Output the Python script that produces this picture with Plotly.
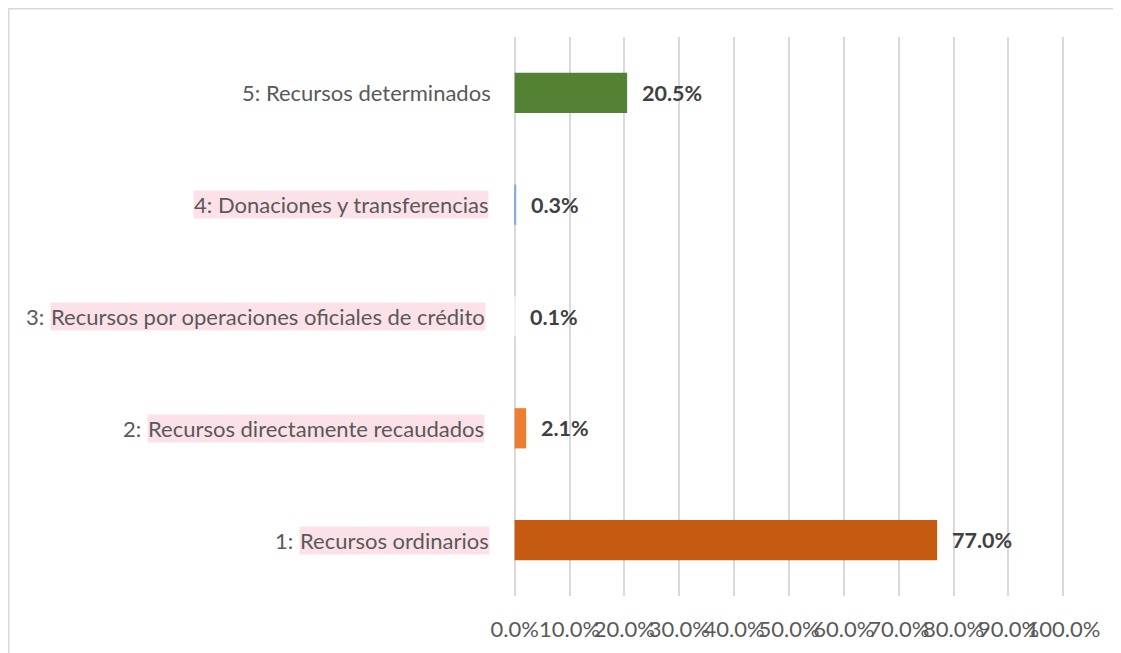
import plotly.graph_objects as go

# data
prefixes = ['1: ', '2: ', '3: ', '4: ', '5: ']
names = ['Recursos ordinarios', 'Recursos directamente recaudados',
         'Recursos por operaciones oficiales de crédito',
         'Donaciones y transferencias', 'Recursos determinados']
shares = [0.770, 0.021, 0.001, 0.003, 0.205]
tick_vals = [i / 10 for i in range(11)]
tick_text = ['%.1f%%' % (v * 100) for v in tick_vals]

barColors = ['#c55a11', '#ed7d31', '#f2f2f2', '#8faadc', '#548235']
# where the pink highlight starts, in px from the left of the figure (None = no highlight)
splitPx = [291, 139, 42, 185, None]
pink = '#fde1e8'
gridColor = '#d9d9d9'
labelFont = dict(family='Lato, Open Sans, sans-serif', size=22, color='#595959')
valueFont = dict(family='Lato, Open Sans, sans-serif', size=21.5, color='#404040')

# page body adds an 8px margin, so the figure is 8px smaller than the window
W, H = 1113, 645
L, R, T, B = 505, 56, 29, 57
plotW = W - L - R
plotH = H - T - B

cats = [p + n for p, n in zip(prefixes, names)]

fig = go.Figure()
fig.add_trace(go.Bar(
    y=cats, x=shares, orientation='h',
    marker=dict(color=barColors, line_width=0),
    width=0.36, hoverinfo='skip'
))

def px2paper(p):
    return (p - L) / plotW

for i, (p, n, v) in enumerate(zip(prefixes, names, shares)):
    # value labels
    fig.add_annotation(x=v, y=cats[i], xref='x', yref='y',
                       text='<b>%.1f%%</b>' % (v * 100), showarrow=False,
                       xanchor='left', xshift=13, font=valueFont)
    # category labels, pink highlight behind the names
    s = splitPx[i]
    if s is None:
        fig.add_annotation(x=px2paper(485), y=cats[i], xref='paper', yref='y', text=p + n,
                           showarrow=False, xanchor='right', font=labelFont)
    elif i == 3:
        fig.add_annotation(x=px2paper(s), y=cats[i], xref='paper', yref='y', text=p + n,
                           showarrow=False, xanchor='left', font=labelFont,
                           bgcolor=pink, borderpad=0)
    else:
        fig.add_annotation(x=px2paper(s), y=cats[i], xref='paper', yref='y', text=n,
                           showarrow=False, xanchor='left', font=labelFont,
                           bgcolor=pink, borderpad=0)
        fig.add_annotation(x=px2paper(s), y=cats[i], xref='paper', yref='y', text=p.strip(),
                           showarrow=False, xanchor='right', xshift=-4, font=labelFont)

# chart frame (top and left edges show, the rest runs off the page)
fig.add_shape(type='rect', xref='paper', yref='paper',
              x0=px2paper(0.75), x1=px2paper(W + 10),
              y0=(T + plotH - (H + 10)) / plotH, y1=(T + plotH - 0.75) / plotH,
              line=dict(color=gridColor, width=1.5), fillcolor='rgba(0,0,0,0)')

# small padding so the 0% and 100% gridlines are not clipped at the edges
fig.update_xaxes(range=[-0.003, 1.003], tickvals=tick_vals, ticktext=tick_text, tickangle=0,
                 showgrid=True, gridcolor=gridColor, gridwidth=1.5,
                 zeroline=True, zerolinecolor=gridColor, zerolinewidth=1.5,
                 showline=False, ticks='', automargin=False,
                 tickfont=labelFont, ticklabelstandoff=18, fixedrange=True)
fig.update_yaxes(showticklabels=False, showgrid=False, zeroline=False, automargin=False,
                 range=[-0.5, 4.5], fixedrange=True)

fig.update_layout(
    width=W, height=H,
    margin=dict(l=L, r=R, t=T, b=B, autoexpand=False),
    plot_bgcolor='white', paper_bgcolor='white',
    showlegend=False, bargap=0.64
)

fig.write_html("out.html", config={'displayModeBar': False})
